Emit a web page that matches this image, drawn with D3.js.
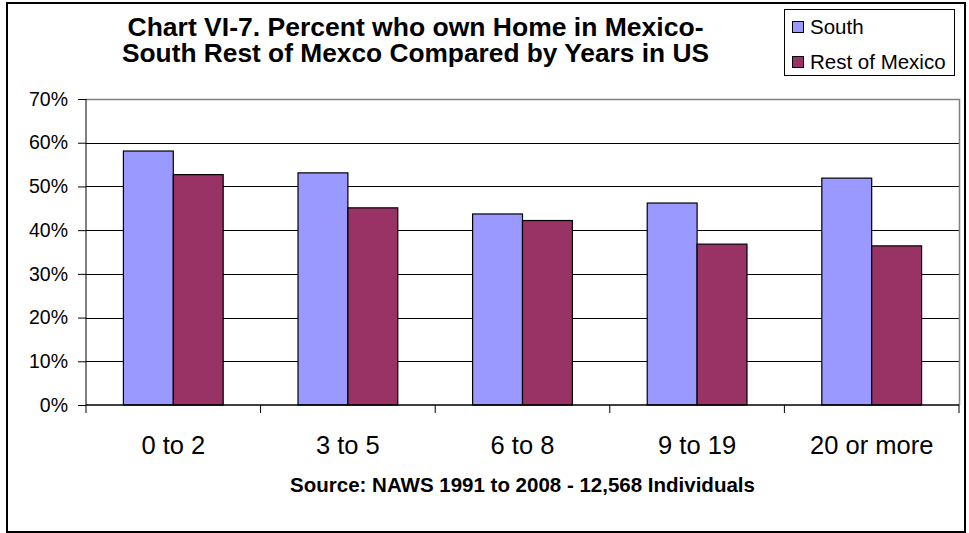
<!DOCTYPE html>
<html>
<head>
<meta charset="utf-8">
<script src="https://cdn.jsdelivr.net/npm/d3@7"></script>
<style>
  html, body { margin: 0; padding: 0; background: #fff; }
  svg { display: block; font-family: Arial, "Liberation Sans", sans-serif; }
</style>
</head>
<body>
<svg id="chart" width="969" height="533"></svg>
<script>
const categories = ["0 to 2", "3 to 5", "6 to 8", "9 to 19", "20 or more"];
const seriesNames = ["South", "Rest of Mexico"];
const southValues = [0.581, 0.531, 0.437, 0.462, 0.519];
const restValues = [0.527, 0.451, 0.422, 0.368, 0.364];
const yTicks = [0, 0.1, 0.2, 0.3, 0.4, 0.5, 0.6, 0.7];
const titleLines = ["Chart VI-7. Percent who own Home in Mexico-", "South Rest of Mexco Compared by Years in US"];
const sourceText = "Source: NAWS 1991 to 2008 - 12,568 Individuals";
const colors = ["#9999FF", "#993366"];

const svg = d3.select("#chart");
const plot = { left: 86, right: 959, top: 99, bottom: 405 };

// outer frame
svg.append("rect").attr("x", 7).attr("y", 3).attr("width", 958).attr("height", 529)
  .attr("fill", "#fff").attr("stroke", "#000").attr("stroke-width", 2);

const x = d3.scaleBand().domain(categories).range([plot.left, plot.right]).padding(0);
const xs = d3.scaleBand().domain(seriesNames).range([0, x.bandwidth()]).paddingInner(0).paddingOuter(0.75);
const y = d3.scaleLinear().domain([0, 0.7]).range([plot.bottom, plot.top]);

// gridlines
svg.append("g").selectAll("line").data(yTicks.filter(t => t > 0 && t < 0.7)).join("line")
  .attr("x1", plot.left).attr("x2", plot.right)
  .attr("y1", d => Math.round(y(d)) + 0.5).attr("y2", d => Math.round(y(d)) + 0.5)
  .attr("stroke", "#000").attr("stroke-width", 1);

// plot area border (top & right gray)
svg.append("path")
  .attr("d", `M${plot.left},${plot.top + 0.5}H${plot.right + 0.5}V${plot.bottom}`)
  .attr("fill", "none").attr("stroke", "#808080").attr("stroke-width", 1.5);

// bars
const data = categories.map((c, i) => ({ c, vals: [southValues[i], restValues[i]] }));
const groups = svg.append("g").selectAll("g").data(data).join("g")
  .attr("transform", d => `translate(${x(d.c)},0)`);
groups.selectAll("rect").data(d => d.vals.map((v, j) => ({ v, s: seriesNames[j], j }))).join("rect")
  .attr("x", d => xs(d.s))
  .attr("width", xs.bandwidth())
  .attr("y", d => y(d.v))
  .attr("height", d => y(0) - y(d.v))
  .attr("fill", d => colors[d.j])
  .attr("stroke", "#000").attr("stroke-width", 1.2);

// y axis
const yAxis = d3.axisLeft(y).tickValues(yTicks).tickFormat(d3.format(".0%")).tickSize(8).tickPadding(10);
const gy = svg.append("g").attr("transform", `translate(${plot.left},0)`).call(yAxis);
gy.select(".domain").attr("stroke", "#000").attr("d", `M0,${plot.top}V${plot.bottom}`);
gy.selectAll(".tick line").attr("stroke", "#000");
gy.selectAll(".tick text").attr("font-size", 19.5).attr("fill", "#000")
  .attr("font-family", "Arial, 'Liberation Sans', sans-serif");

// x axis
const xAxis = d3.axisBottom(x).tickSize(0).tickFormat("");
const gx = svg.append("g").attr("transform", `translate(0,${plot.bottom})`).call(xAxis);
gx.select(".domain").attr("stroke", "#000").attr("stroke-width", 1.5).attr("d", `M${plot.left},0H${plot.right}`);
gx.selectAll(".tick").remove();
const boundaries = categories.map(c => x(c)).concat([plot.right]);
gx.selectAll("line.b").data(boundaries).join("line").attr("class", "b")
  .attr("x1", d => d).attr("x2", d => d).attr("y1", 0).attr("y2", 8)
  .attr("stroke", "#000");
svg.append("g").selectAll("text").data(categories).join("text")
  .attr("x", d => x(d) + x.bandwidth() / 2)
  .attr("y", 454)
  .attr("text-anchor", "middle")
  .attr("font-size", 25.5)
  .attr("fill", "#000")
  .text(d => d);

// title
const titleWidths = [576, 587];
svg.append("g").selectAll("text").data(titleLines).join("text")
  .attr("x", 415.5).attr("y", (d, i) => 35.5 + i * 26.5)
  .attr("text-anchor", "middle").attr("font-size", 25).attr("font-weight", "bold")
  .attr("textLength", (d, i) => titleWidths[i]).attr("lengthAdjust", "spacingAndGlyphs")
  .attr("fill", "#000").text(d => d);

// source
svg.append("text").attr("x", (plot.left + plot.right) / 2).attr("y", 491.5)
  .attr("text-anchor", "middle").attr("font-size", 20.5).attr("font-weight", "bold")
  .attr("fill", "#000").text(sourceText);

// legend
const lg = svg.append("g");
lg.append("rect").attr("x", 784.5).attr("y", 9.5).attr("width", 170).attr("height", 66)
  .attr("fill", "#fff").attr("stroke", "#000").attr("stroke-width", 1);
const items = lg.selectAll("g").data(seriesNames).join("g")
  .attr("transform", (d, i) => `translate(792, ${i * 35})`);
items.append("rect").attr("x", 0.5).attr("y", 21.5).attr("width", 11).attr("height", 11)
  .attr("fill", (d, i) => colors[i]).attr("stroke", "#000").attr("stroke-width", 1);
items.append("text").attr("x", 18).attr("y", 33.5).attr("font-size", 20.5).attr("fill", "#000").text(d => d);
</script>
</body>
</html>
